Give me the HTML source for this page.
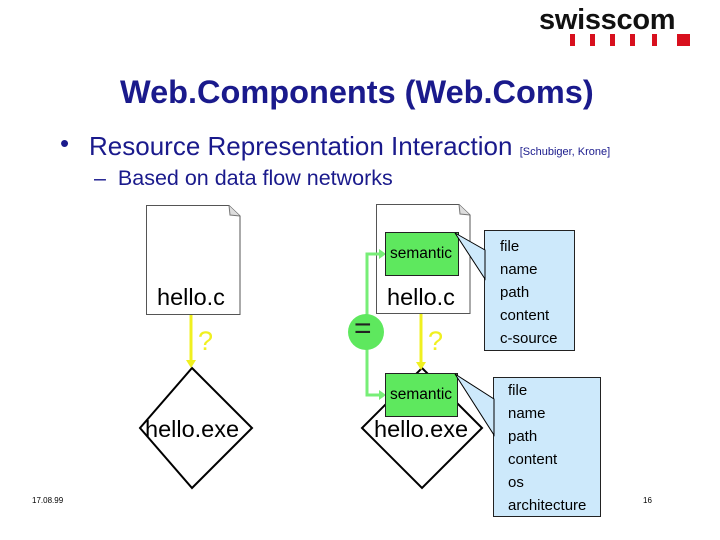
<!DOCTYPE html>
<html><head><style>
body{margin:0;width:720px;height:540px;background:#fff;position:relative;overflow:hidden;font-family:"Liberation Sans",Arial,sans-serif}
.a{position:absolute;white-space:nowrap}
</style></head><body>
<div class="a" style="left:539px;top:4px;font-size:29px;font-weight:bold;letter-spacing:-0.3px;color:#111">swisscom</div>
<svg class="a" style="left:0;top:0" width="720" height="540">
<g fill="#d8101e"><rect x="570" y="34" width="5" height="12"/><rect x="590" y="34" width="5" height="12"/><rect x="610" y="34" width="5" height="12"/><rect x="630" y="34" width="5" height="12"/><rect x="652" y="34" width="5" height="12"/><rect x="677" y="34" width="13" height="12"/></g>
<path d="M146.5 205.5H229L240 216V314.5H146.5Z" fill="#fff" stroke="#555"/>
<path d="M229 205.5L230 215L240 216" fill="#ddd" stroke="#777"/>
<path d="M376.5 204.5H459L470 215V313.5H376.5Z" fill="#fff" stroke="#555"/>
<path d="M459 204.5L460 214L470 215" fill="#ddd" stroke="#777"/>
<path d="M192 368L252 428L192 488L140 428Z" fill="#fff" stroke="#000" stroke-width="2"/>
<path d="M422 368L482 428L422 488L362 428Z" fill="#fff" stroke="#000" stroke-width="2"/>
<g stroke="#f0f020" stroke-width="3"><line x1="191" y1="315" x2="191" y2="362"/><line x1="421" y1="314" x2="421" y2="364"/></g>
<path d="M186 360L191 368L196 360Z M416 362L421 370L426 362Z" fill="#f0f020"/>
<path d="M381 254H367V395H381" fill="none" stroke="#77ee77" stroke-width="3"/>
<path d="M379 249L386 254L379 259Z M379 390L386 395L379 400Z" fill="#77ee77"/>
<circle cx="366" cy="332" r="18" fill="#5ee85e"/>
<rect x="385.5" y="232.5" width="73" height="43" fill="#5ee85e" stroke="#222"/>
<rect x="385.5" y="373.5" width="72" height="43" fill="#5ee85e" stroke="#222"/>
<rect x="484.5" y="230.5" width="90" height="120" fill="#cde9fb" stroke="#222"/>
<rect x="493.5" y="377.5" width="107" height="139" fill="#cde9fb" stroke="#222"/>
<path d="M455 233L485 250V279Z" fill="#cde9fb" stroke="#000"/>
<path d="M455 374L494 399V435Z" fill="#cde9fb" stroke="#000"/>
</svg>
<div class="a" style="left:120px;top:74px;font-size:32.5px;font-weight:bold;color:#1a1a8c">Web.Components (Web.Coms)</div>
<div class="a" style="left:60px;top:128px;font-size:26px;color:#1a1a8c">•</div>
<div class="a" style="left:89px;top:131px;font-size:26px;color:#1a1a8c">Resource Representation Interaction <span style="font-size:11px">[Schubiger, Krone]</span></div>
<div class="a" style="left:94px;top:166px;font-size:21.5px;color:#1a1a8c">–&nbsp; Based on data flow networks</div>
<div class="a" style="left:157px;top:284px;font-size:23.5px">hello.c</div>
<div class="a" style="left:387px;top:284px;font-size:23.5px">hello.c</div>
<div class="a" style="left:145px;top:416px;font-size:23.5px">hello.exe</div>
<div class="a" style="left:374px;top:416px;font-size:23.5px">hello.exe</div>
<div class="a" style="left:390px;top:245px;font-size:15.5px">semantic</div>
<div class="a" style="left:390px;top:386px;font-size:15.5px">semantic</div>
<div class="a" style="left:198px;top:326px;font-size:27px;color:#f0f020">?</div>
<div class="a" style="left:428px;top:326px;font-size:27px;color:#f0f020">?</div>
<div class="a" style="left:354px;top:312px;font-size:30px;color:#222">=</div>
<div class="a" style="left:500px;top:235px;font-size:15px;line-height:23px">file<br>name<br>path<br>content<br>c-source</div>
<div class="a" style="left:508px;top:379px;font-size:15px;line-height:23px">file<br>name<br>path<br>content<br>os<br>architecture</div>
<div class="a" style="left:32px;top:496px;font-size:8px">17.08.99</div>
<div class="a" style="left:643px;top:496px;font-size:8px">16</div>
</body></html>
